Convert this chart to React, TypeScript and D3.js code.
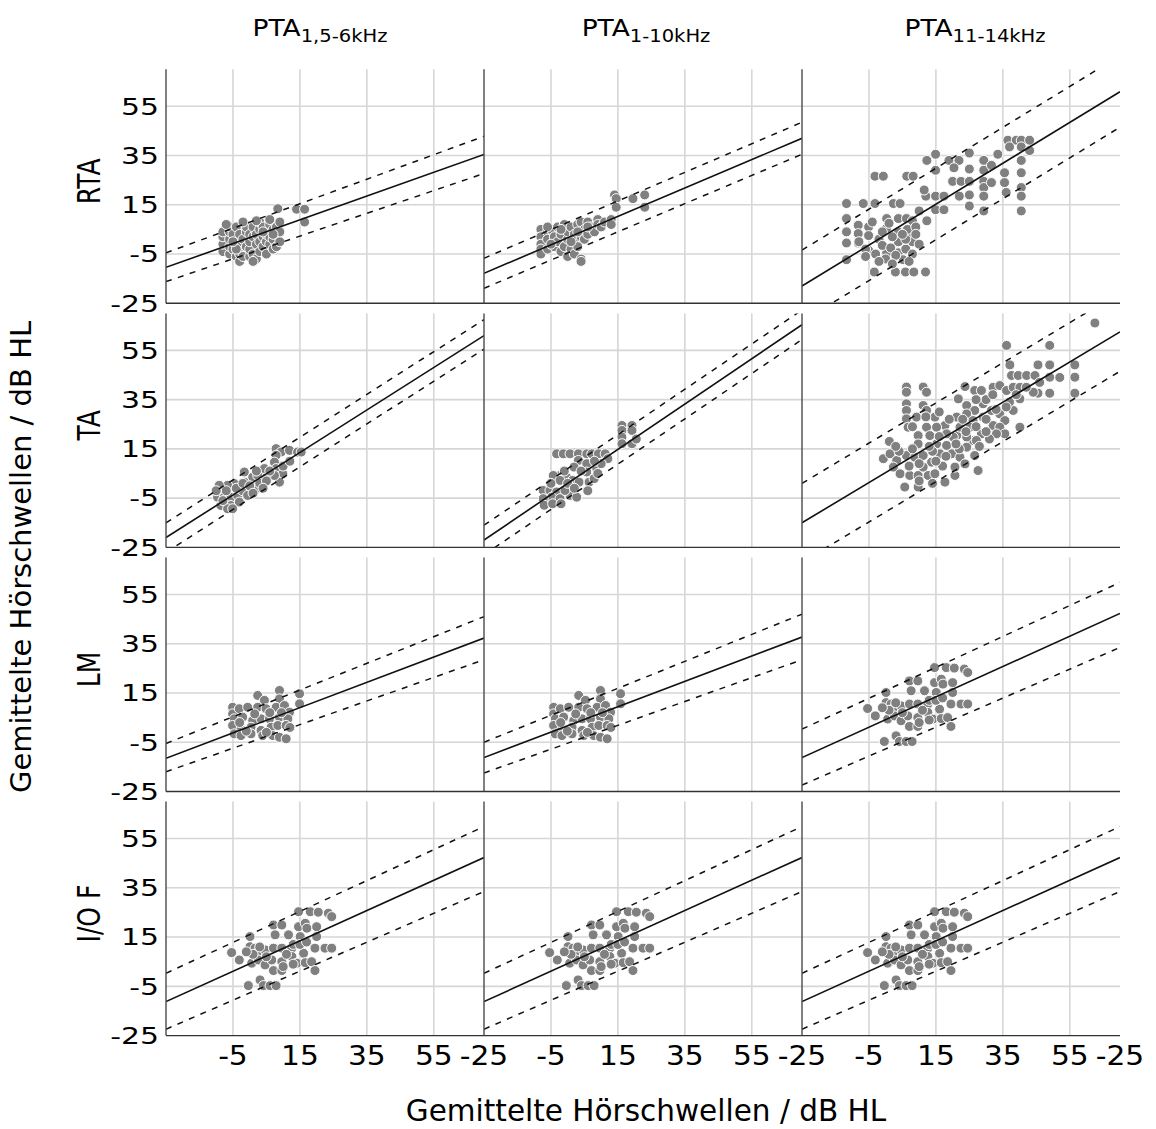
import React from 'react';
import * as d3 from 'd3';

// ---------- data ----------
const columnTitleMain = ['PTA', 'PTA', 'PTA'];
const columnTitleSub = ['1,5-6kHz', '1-10kHz', '11-14kHz'];
const rowLabels = ['RTA', 'TA', 'LM', 'I/O F'];
const yTickValues = [-25, -5, 15, 35, 55];
const yTickLabels = ['-25', '-5', '15', '35', '55'];
const gridValues = [-5, 15, 35, 55];
const xTickValues = [-5, 15, 35, 55, 70];
const xTickLabels = ['-5', '15', '35', '55', '-25'];
const xAxisTitle = 'Gemittelte Hörschwellen / dB HL';
const yAxisTitle = 'Gemittelte Hörschwellen / dB HL';
const lineXEnds = [-25, 70];

// fit lines: values of y at x=-25 and x=70 (solid regression, upper / lower dashed)
const solidLines = [
  [[-10.4, 35.4], [-12.8, 42], [-18, 60.9]],
  [[-21, 61], [-22, 65.4], [-15, 62.5]],
  [[-11.5, 37.3], [-11.2, 37.7], [-11.2, 47.3]],
  [[-11.2, 47.3], [-11.2, 47.3], [-11.2, 47.3]],
];
const upperLines = [
  [[-4.5, 42.8], [-6.7, 48.5], [-3.4, 75.5]],
  [[-15, 67.5], [-16, 71.4], [1, 78.5]],
  [[-5.5, 46], [-5, 47], [0.3, 59.9]],
  [[0.3, 59.9], [0.3, 59.9], [0.3, 59.9]],
];
const lowerLines = [
  [[-16.2, 27.7], [-18.9, 35.5], [-32.4, 46.5]],
  [[-27, 55.5], [-28, 59.4], [-31, 46.5]],
  [[-17, 28.5], [-17.5, 28.5], [-22.4, 33.5]],
  [[-22.4, 33.5], [-22.4, 33.5], [-22.4, 33.5]],
];

const rtaPta1 = [
  [-8, -4], [-8, -1], [-8, 2], [-8, 4], [-6, -5], [-6, -2], [-6, 1], [-6, 4], [-6, 6], [-5, -3], [-5, 3], [-4, 6],
  [-4, -6], [-3, -8], [-3, -5], [-3, 0], [-3, 3], [-2, -6], [-2, 1], [-1, -2], [-1, 4], [-1, 6], [0, -6], [0, -3],
  [0, 0], [0, 3], [1, -5], [1, 2], [1, 6], [2, -7], [2, -1], [2, 3], [3, -4], [3, 0], [3, 5], [3, 8], [4, -2], [4, 2],
  [4, 6], [5, -5], [5, 0], [5, 3], [6, -1], [6, 2], [6, 7], [7, -3], [7, 1], [7, 5], [8, -2], [8, 3], [8, 6], [8.4, 13.4],
  [9, 0], [9, 4], [9, 8], [14, 13.2], [16.4, 13.2], [16.4, 8], [-7, 7], [-2, 8], [2, 8.5], [6, 9], [-4, -3], [1, -8],
  [-5, 0], [4, 4], [7, 3],
];
const rtaPta2 = [
  [-8, 5], [-8, 2], [-8, -1], [-8, -3], [-8, -5], [-6, 4], [-6, 1], [-6, -3], [-5, 5], [-4, 2], [-4, -2], [-3, 6],
  [-3, 0], [-2, -4], [-2, 3], [-1, 7], [-1, -2], [0, 1], [0, 4], [0, -6], [1, -3], [1, 6], [2, 0], [2, 3], [2, -5],
  [3, 7], [3, -2], [4, 8], [4, -7], [4, -8], [4, 2], [5, 1], [5, 5], [6, 8], [6, 3], [7, 6], [8, 4], [9, 9], [9, 7],
  [10, 6], [11, 8], [13, 9], [13, 7], [14, 19], [14.5, 17.5], [19.5, 17.5], [23, 19], [23, 14], [14.5, 14],
  [-6, 6], [-2, 5], [1, 0], [3, 4], [6, 6], [-5, -1],
];
const rtaPta3 = [
  [-11.7, 15.5], [-6.7, 15.5], [-3.2, 15.5], [2.3, 15.5], [4.3, 15.5], [-3.2, 26.6], [-0.7, 26.6], [6.3, 26.6], [8.2, 26.6],
  [-11.7, 9.4], [-11.7, 4], [-11.7, -0.5], [-11.7, -7.3], [-8.2, 6.7], [-8.2, 3.3], [-8.2, -0.5], [-5.1, 6], [-5.1, 2.5],
  [-5.1, -3.5], [-3.4, -12.3], [0.3, 9.4], [0.3, 5.5], [0.3, -4.5], [-2, 1], [-1, -1.5], [3.8, 9.4], [3.8, 4], [3.8, 0],
  [3.8, -4.5], [5.2, -7.3], [1.5, -2.5], [2, 2], [2.9, -12.3], [5.9, -12.3], [8.4, -12.3], [11.9, -12.3], [6.2, 9.4],
  [8, 8.5], [7.5, 3.5], [8, 0], [6.5, 5], [9, 6], [12.3, 8.5], [10, 12.5], [12, 18.5], [11.5, 21], [14.9, 13], [17.4, 13],
  [14.9, 18.5], [17.4, 18.5], [12.3, 33], [14.9, 35.5], [14.9, 29], [18.9, 33], [21.9, 33], [20.4, 30], [20, 24.5],
  [22.5, 24.5], [22, 18.5], [25, 36], [25, 29.5], [25, 24.5], [25, 19], [25, 14.5], [29.3, 33], [29.3, 29], [29.3, 24.5],
  [29.3, 22], [29.3, 18.5], [29.3, 12.5], [31.6, 31], [31.6, 24], [33.5, 35.5], [35.5, 28], [35.5, 24], [36, 20],
  [36.5, 41.2], [39, 41.2], [40.5, 41.2], [43, 41.2], [37, 38.5], [40.5, 38.5], [43, 37], [40.5, 33], [40.5, 28],
  [40.5, 22], [40.5, 18.5], [40.5, 12.5], [-8, 0], [-6, -3], [-3, -5], [0, -7], [3, -5.5], [6, -3], [8, -5], [10, -1],
  [9, 3], [6, 1], [-1, 4], [-4, 8], [1, 7.5], [-2, -8], [2, -9], [5, 3], [-6, -6], [7, -8],
];
const taPta1 = [
  [7.9, 15.1], [9.4, 13.7], [11.9, 14.4], [14.3, 13.7], [7.9, 12.4], [15.4, 13.7], [7.4, 9.6], [7.9, 7], [9.9, 4.9],
  [8.9, 1.5], [7.4, 4.2], [4.9, 4.2], [4.4, 7], [1.9, -1.2], [-1.6, 5.6], [0.9, 3.5], [2.4, 4.2], [-1.6, 1.5],
  [-4.6, 0.9], [-6.6, 0.2], [-9.1, 0.2], [-9.6, -4.6], [-7.6, -4.6], [-5.6, -4.6], [-3.6, -3.9], [-8.6, -8], [-5.6, -8],
  [-3.1, -6.6], [-6.6, -9.3], [-5.1, -9.3], [-2.1, -2], [-0.6, -3.9], [-7, -2], [-4, -1], [-2, 1], [0, 0], [1, -3],
  [3, 1], [5, 2], [6, 6], [2, 6], [10, 8], [12, 10], [-10, -2], [-8, -6], [4, -1],
];
const taPta2 = [
  [16.2, 24.5], [16.2, 22.5], [19.2, 24.5], [19.2, 22.5], [16.2, 19.8], [16.2, 17.1], [19.2, 17.1], [20.5, 19],
  [-3.3, 13], [-1.3, 13], [0.7, 13], [3.2, 13], [5.7, 13], [7.2, 13], [9.2, 13], [11.2, 13], [12, 11], [3.2, 10.3],
  [5.7, 9], [1.9, 7.6], [8.7, 7], [5.7, 5.6], [-2.3, 4.2], [-4.3, 4.2], [-0.3, 3.5], [-2.3, 2.2], [1.4, 2.2], [3.4, 1.5],
  [6.4, 1.5], [7.9, 2.9], [-7.3, -1.9], [-5.3, -1.9], [-3.3, -2.5], [-4.8, -4.6], [-7.3, -5.2], [-2.3, -5.2],
  [0.7, -3.9], [2.7, -4.6], [-0.8, -1.9], [-7, -7.9], [-4.5, -7.3], [-2, -7.3], [10, 9], [8, 10], [4, 6], [0, 1],
  [-5, 1], [2, -1], [6, -2], [-1, 6], [9, 5],
];
const taPta3 = [
  [62.5, 66.1], [36.1, 57], [49, 57], [37.1, 49.1], [45.5, 49.1], [49, 49.1], [56.5, 49.1], [37.6, 44.8], [39.6, 44.8],
  [42.1, 44.8], [44.6, 44.8], [49, 44.1], [56.5, 44.1], [56.5, 37.6], [49, 37.6], [45.5, 37.6], [44.1, 38], [40.1, 35.3],
  [38.1, 30.6], [40.1, 23.8], [32.1, 40], [34.1, 40.7], [36.1, 38.7], [38.1, 40], [40.1, 40], [23.7, 40.3], [26.6, 38.7],
  [28.6, 38.7], [21.7, 35.3], [24.2, 32.6], [26.6, 30.6], [29.1, 33.3], [31.6, 30.6], [34.1, 29.2], [35.6, 26.5],
  [21.2, 27.9], [24.2, 29.2], [26.1, 26.5], [29.1, 27.9], [32.1, 24.5], [34.1, 23.8], [35.6, 21.1], [33.1, 21.1],
  [28.6, 21.1], [26.1, 18.4], [24.2, 19.8], [21.2, 20.4], [17.7, 24.5], [14.7, 27.9], [12.2, 23.8], [9.2, 27.9],
  [9.7, 20.4], [6.2, 40.1], [6.2, 38], [6.2, 33.3], [6.2, 30.6], [6.2, 27.2], [6.7, 23.8], [11.2, 40.1], [12.2, 38],
  [11.2, 32.6], [12.2, 30.6], [1.1, 18], [-0.7, 11], [1.3, 13], [3.3, 10.3], [6.2, 12.3], [8.7, 11.6], [11.2, 12.3],
  [9.7, 17], [13.2, 20.4], [15.2, 17], [16.2, 13], [13.7, 9.6], [19.7, 13], [22.2, 11.6], [24.2, 15.7], [26.6, 12.3],
  [27.1, 18.4], [2.3, 7.6], [4.3, 4.9], [5.7, -0.5], [7.2, 4.2], [9.7, -0.5], [9.7, 4.2], [11.2, 7.6], [12.7, 4.2],
  [14.7, 4.9], [17.7, 1.5], [20.7, 4.2], [20.7, 7.6], [23.7, 8.9], [27.6, 6.2], [18.2, 16.4], [20.2, 19.8], [22.2, 23.8],
  [25.2, 23.8], [18.2, 21.1], [15.2, 23.8], [30, 35], [27, 35], [32, 37], [37, 34], [42, 40], [46, 42], [52, 44],
  [14, 14], [10, 9], [7, 8], [17, 8], [22, 15], [19, 27], [16, 30], [28, 16], [31, 19], [13, 16], [4, 14], [8, 15],
  [15, 10], [18, 12], [21, 17], [24, 22], [27, 24], [30, 27], [33, 31], [36, 32], [39, 37], [16, 20], [12, 28],
  [8, 24], [23, 27], [30, 22], [3, 16], [10, 2], [14, 1],
];
const lmPta1 = [
  [8.9, 16], [2.4, 14], [4.4, 12], [8.9, 12.6], [14.9, 14.7], [14.9, 10.6], [-5.1, 9.2], [-5.1, 6.5], [-3.1, 8.6],
  [-0.6, 9.2], [2.4, 9.2], [4.9, 8.6], [7.9, 9.2], [10.4, 9.9], [11.9, 7.2], [-4.6, 4.5], [-2.1, 5.2], [0.9, 3.8],
  [3.4, 4.5], [5.9, 4.5], [8.9, 5.2], [11.4, 4.5], [-5.1, 1.8], [-2.6, 0.4], [0.4, 1.1], [3.4, -0.2], [6.4, 1.1],
  [8.4, 1.8], [10.9, 1.8], [-4.6, -1.6], [-2.6, -2.3], [0.4, -1.6], [3.9, -2.3], [6.9, -2.3], [8.9, -3], [10.9, -3.6],
  [-3, 3], [1.5, 6.5], [6, 7], [9.5, 7], [-1, -0.5], [12, 1], [5, -1],
];
const lmPta2 = [
  [9.8, 16], [3.3, 14], [5.3, 12], [9.8, 12.6], [15.8, 14.7], [15.8, 10.6], [-4.2, 9.2], [-4.2, 6.5], [-2.2, 8.6],
  [0.3, 9.2], [3.3, 9.2], [5.8, 8.6], [8.8, 9.2], [11.3, 9.9], [12.8, 7.2], [-3.7, 4.5], [-1.2, 5.2], [1.8, 3.8],
  [4.3, 4.5], [6.8, 4.5], [9.8, 5.2], [12.3, 4.5], [-4.2, 1.8], [-1.7, 0.4], [1.3, 1.1], [4.3, -0.2], [7.3, 1.1],
  [9.3, 1.8], [11.8, 1.8], [-3.7, -1.6], [-1.7, -2.3], [1.3, -1.6], [4.8, -2.3], [7.8, -2.3], [9.8, -3], [11.8, -3.6],
  [-2.1, 3], [2.4, 6.5], [6.9, 7], [10.4, 7], [-0.1, -0.5], [12.9, 1], [5.9, -1],
];
const ioPoints = [
  [-5.4, 8.7], [-3.1, 5.7], [0.1, 15.2], [0.1, 11.1], [1.6, 10.5], [0.6, 4.4], [-0.4, -4.7], [3.1, -2.4], [4.1, -4.7],
  [6.1, -4.7], [7.9, -4.7], [2.1, 8.4], [4.6, 9.8], [7.1, 10.5], [9.6, 10.5], [12.6, 10.5], [2.6, 5.7], [4.6, 3.7],
  [6.6, 5.7], [9.6, 5], [12.6, 7.1], [7.1, 1.4], [9.6, 1.4], [7.1, 19.9], [9.6, 19.9], [7.6, 15.9], [11.6, 15.9],
  [14.6, 25.3], [18.1, 25.3], [20.5, 25.1], [23.5, 24.7], [24.5, 23.3], [14.6, 19.2], [16.6, 20.6], [17.1, 18.6],
  [20, 19.2], [20, 15.2], [15.1, 15.2], [16.1, 8.4], [19.5, 10.5], [22.5, 10.5], [24.5, 10.5], [14.1, 4.4], [16.6, 4.6],
  [18.5, 5], [19.5, 1.4], [1, 8], [3, 11], [5, 7], [11, 8], [13, 12], [15, 12], [17, 13], [-1, 9], [10, 3], [13, 4],
];
const panelPoints = [
  [rtaPta1, rtaPta2, rtaPta3],
  [taPta1, taPta2, taPta3],
  [lmPta1, lmPta2, ioPoints],
  [ioPoints, ioPoints, ioPoints],
];

// ---------- layout ----------
const W = 1156;
const H = 1129;
const colLeft = [166, 484, 802];
const rowTop = [69.3, 313.4, 557.5, 801.6];
const panelW = 318;
const panelH = 234;
const FONT = '"DejaVu Sans", Verdana, sans-serif';

const x = d3.scaleLinear().domain([-25, 70]).range([0, panelW]);
const y = d3.scaleLinear().domain([-25, 70]).range([panelH, 0]);
const lineGen = d3
  .line<[number, number]>()
  .x((d) => x(d[0]))
  .y((d) => y(d[1]));

function seg(v: number[]): [number, number][] {
  return [
    [lineXEnds[0], v[0]],
    [lineXEnds[1], v[1]],
  ];
}

function Panel({ r, c }: { r: number; c: number }) {
  const id = `clip-${r}-${c}`;
  const pts = panelPoints[r][c];
  return (
    <g transform={`translate(${colLeft[c]},${rowTop[r]})`}>
      <defs>
        <clipPath id={id}>
          <rect x={0} y={0} width={panelW} height={panelH} />
        </clipPath>
      </defs>
      {gridValues.map((v) => (
        <line key={'gv' + v} x1={x(v)} x2={x(v)} y1={0} y2={panelH} stroke="#d6d6d6" strokeWidth={1.6} />
      ))}
      {gridValues.map((v) => (
        <line key={'gh' + v} x1={0} x2={panelW} y1={y(v)} y2={y(v)} stroke="#d6d6d6" strokeWidth={1.6} />
      ))}
      <g clipPath={`url(#${id})`}>
        {pts.map((p, i) => (
          <circle key={i} cx={x(p[0])} cy={y(p[1])} r={5} fill="#808080" stroke="#ffffff" strokeWidth={1} />
        ))}
        <path d={lineGen(seg(upperLines[r][c])) || ''} fill="none" stroke="#111" strokeWidth={1.5} strokeDasharray="6,6.5" />
        <path d={lineGen(seg(lowerLines[r][c])) || ''} fill="none" stroke="#111" strokeWidth={1.5} strokeDasharray="6,6.5" />
        <path d={lineGen(seg(solidLines[r][c])) || ''} fill="none" stroke="#111" strokeWidth={1.6} />
      </g>
      <line x1={0} x2={0} y1={0} y2={panelH} stroke="#4a4a4a" strokeWidth={1.4} />
      <line x1={0} x2={panelW} y1={panelH} y2={panelH} stroke="#333" strokeWidth={1.4} />
    </g>
  );
}

export default function App() {
  const titleCenters = [320, 646, 975];
  return (
    <svg
      width={W}
      height={H}
      viewBox={`0 0 ${W} ${H}`}
      style={{ position: 'absolute', left: 0, top: 0, background: '#fff' }}
      fontFamily={FONT}
    >
      <rect x={0} y={0} width={W} height={H} fill="#fff" />
      {rowLabels.map((_, r) => [0, 1, 2].map((c) => <Panel key={`${r}-${c}`} r={r} c={c} />))}

      {/* column titles */}
      {columnTitleMain.map((t, c) => (
        <text
          key={'ct' + c}
          transform={`translate(${titleCenters[c]},36) scale(1.15,1)`}
          textAnchor="middle"
          fontSize={23}
          fill="#000"
        >
          <tspan>{t}</tspan>
          <tspan fontSize={17} dy={6}>
            {columnTitleSub[c]}
          </tspan>
        </text>
      ))}

      {/* y tick labels */}
      {rowTop.map((top, r) =>
        yTickValues.map((v, i) => (
          <text
            key={`yt-${r}-${v}`}
            transform={`translate(159,${top + y(v)}) scale(1.3,1)`}
            textAnchor="end"
            dy="0.36em"
            fontSize={23}
            fill="#000"
          >
            {yTickLabels[i]}
          </text>
        ))
      )}

      {/* x tick labels */}
      {colLeft.map((left, c) =>
        xTickValues.map((v, i) => (
          <text
            key={`xt-${c}-${v}`}
            transform={`translate(${left + x(v)},1065) scale(1.1,1)`}
            textAnchor="middle"
            fontSize={27}
            fill="#000"
          >
            {xTickLabels[i]}
          </text>
        ))
      )}

      {/* row labels */}
      {rowLabels.map((lab, r) => (
        <text
          key={'rl' + r}
          transform={`translate(100,${rowTop[r] + panelH / 2 - 5}) scale(1.3,1) rotate(-90)`}
          textAnchor="middle"
          fontSize={25}
          fill="#000"
        >
          {lab}
        </text>
      ))}

      {/* axis titles */}
      <text transform="translate(31,557) rotate(-90)" textAnchor="middle" fontSize={29} fill="#000">
        {yAxisTitle}
      </text>
      <text x={646} y={1121} textAnchor="middle" fontSize={29.5} fill="#000">
        {xAxisTitle}
      </text>
    </svg>
  );
}
